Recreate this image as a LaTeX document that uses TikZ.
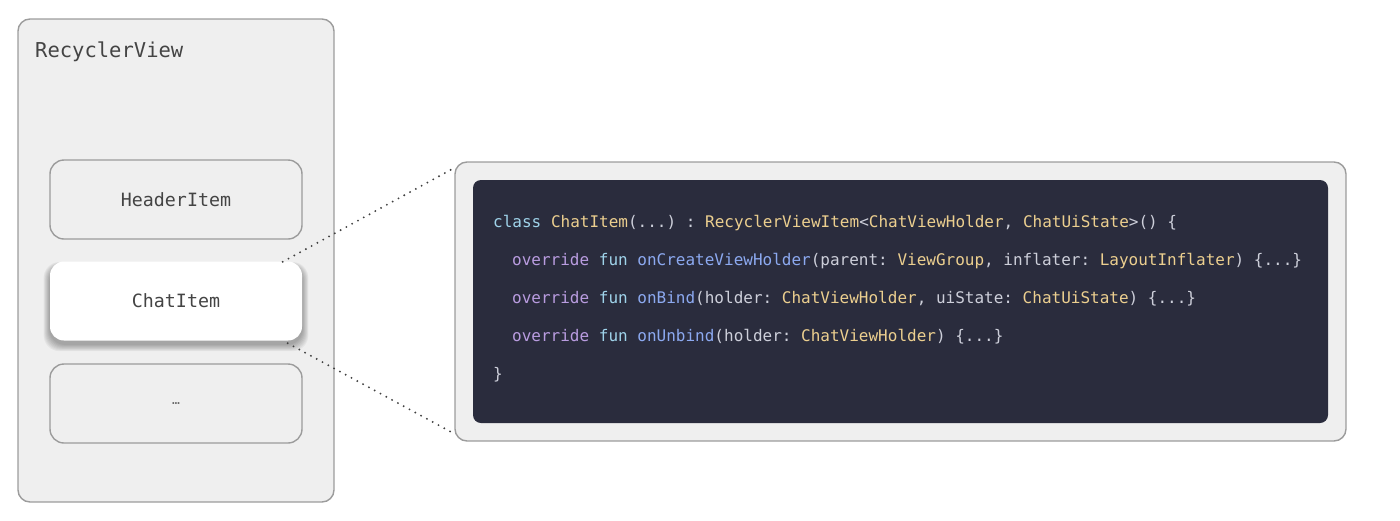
\documentclass[tikz,border=0pt]{standalone}
\usepackage{fontspec}
\usetikzlibrary{calc}
\newfontfamily\codefont{DejaVu Sans Mono}[WordSpace={1,0,0}]
\definecolor{panelbg}{HTML}{EFEFEF}
\definecolor{panelline}{HTML}{9C9C9C}
\definecolor{labeltext}{HTML}{444444}
\definecolor{codebg}{HTML}{2A2C3D}
\definecolor{cplain}{HTML}{CDCFDA}
\definecolor{ckeyword}{HTML}{9FD3EA}
\definecolor{cmod}{HTML}{B99CE0}
\definecolor{cfunc}{HTML}{8CA9F0}
\definecolor{ctype}{HTML}{ECCF8F}
\newcommand{\Kc}[1]{\textcolor{ckeyword}{#1}}
\newcommand{\Mc}[1]{\textcolor{cmod}{#1}}
\newcommand{\Fc}[1]{\textcolor{cfunc}{#1}}
\newcommand{\Tc}[1]{\textcolor{ctype}{#1}}
\begin{document}
\begin{tikzpicture}[x=1pt,y=-1pt,
  panel/.style={draw=panelline, line width=1.4pt, fill=panelbg, rounded corners=12pt, inner sep=0pt},
  itembox/.style={draw=panelline, line width=1.4pt, fill=panelbg, rounded corners=14pt,
    minimum width=252pt, minimum height=79pt, inner sep=0pt,
    font=\codefont\frenchspacing\fontsize{18.3}{22}\selectfont, text=labeltext},
  activebox/.style={itembox, draw=none, fill=white},
  shadowlayer/.style={fill=black, opacity=0.045, rounded corners=16pt},
  codeline/.style={anchor=base west, inner sep=0pt, font=\codefont\frenchspacing\fontsize{16}{19}\selectfont, text=cplain},
  zoomline/.style={draw=black!75, line width=2.1pt, line cap=round, dash pattern=on 0pt off 6.6pt}
]
\useasboundingbox (0,0) rectangle (1400,520);
% left panel
\node[panel, minimum width=316pt, minimum height=483pt] (rv) at (176,260.5) {};
\node[anchor=base west, inner sep=0pt, font=\codefont\fontsize{20.5}{24}\selectfont, text=labeltext] (rvlabel) at (35,57) {RecyclerView};
\node[itembox] (header) at (176,199.5) {HeaderItem};
\coordinate (shc) at (176,305);
\foreach \s in {1,2,...,8}{
  \fill[shadowlayer] ($(shc)+(-126-\s*0.8,-39-\s*0.5)$) rectangle ($(shc)+(126+\s*0.8,39+\s*0.9)$);
}
\node[activebox] (chat) at (176,301) {ChatItem};
\node[itembox, font=\codefont\fontsize{13}{16}\selectfont, text=labeltext!80] (more) at (176,403.5) {…};
% right panel
\node[panel, minimum width=891pt, minimum height=279pt] (outer) at (900.5,301.5) {};
\node[draw=none, fill=codebg, rounded corners=8pt, minimum width=855pt, minimum height=243pt, inner sep=0pt] (code) at (900.5,301.5) {};
% code
\node[codeline] (l1) at (493,227) {\Kc{class} \Tc{ChatItem}(...) : \Tc{RecyclerViewItem}<\Tc{ChatViewHolder}, \Tc{ChatUiState}>() \{};
\node[codeline] (l2) at (512,265) {\Mc{override} \Kc{fun} \Fc{onCreateViewHolder}(parent: \Tc{ViewGroup}, inflater: \Tc{LayoutInflater}) \{...\}};
\node[codeline] (l3) at (512,303) {\Mc{override} \Kc{fun} \Fc{onBind}(holder: \Tc{ChatViewHolder}, uiState: \Tc{ChatUiState}) \{...\}};
\node[codeline] (l4) at (512,341) {\Mc{override} \Kc{fun} \Fc{onUnbind}(holder: \Tc{ChatViewHolder}) \{...\}};
\node[codeline] (l5) at (493,379) {\}};
% zoom lines
\draw[zoomline] ($(chat.north east)+(-20,1)$) -- ($(outer.north west)+(1,6)$);
\draw[zoomline] ($(chat.south east)+(-15,2)$) -- ($(outer.south west)+(0,-8)$);
\end{tikzpicture}
\end{document}
